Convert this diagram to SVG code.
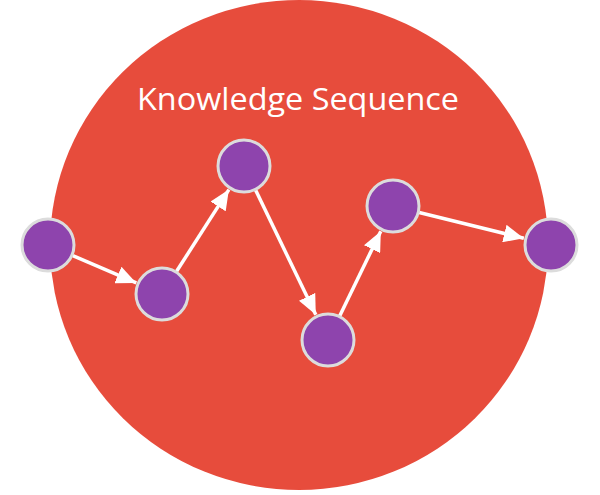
<svg xmlns="http://www.w3.org/2000/svg" width="600" height="495" viewBox="0 0 600 495">
<style>
.node{fill:#8e44ad;stroke:#dcdcdc;stroke-width:3}
.edge{stroke:#ffffff;stroke-width:3.5;fill:none}
.title{font-family:"Open Sans","Liberation Sans",sans-serif;font-size:31px;fill:#ffffff}
</style>
<defs>
<marker id="ah" markerUnits="userSpaceOnUse" markerWidth="21" markerHeight="18" refX="20" refY="9" orient="auto">
<path d="M0,0 L20,9 L0,18 z" fill="#ffffff"/>
</marker>
</defs>
<g id="background">
<ellipse cx="299" cy="245" rx="249" ry="245" fill="#e74c3c"/>
<text class="title" x="298" y="110" text-anchor="middle" textLength="322" lengthAdjust="spacingAndGlyphs">Knowledge Sequence</text>
</g>
<g id="connectors">
<line class="edge" x1="72.8" y1="255.7" x2="136.3" y2="282.9" marker-end="url(#ah)"/>
<line class="edge" x1="176.6" y1="271.3" x2="228.9" y2="189.6" marker-end="url(#ah)"/>
<line class="edge" x1="255.7" y1="190.3" x2="315.8" y2="314.8" marker-end="url(#ah)"/>
<line class="edge" x1="339.8" y1="315.7" x2="380.8" y2="231.2" marker-end="url(#ah)"/>
<line class="edge" x1="419.2" y1="212.5" x2="523.8" y2="238.3" marker-end="url(#ah)"/>
</g>
<g id="n1"><circle class="node" cx="48" cy="245" r="26"/></g>
<g id="n2"><circle class="node" cx="162" cy="294" r="26"/></g>
<g id="n3"><circle class="node" cx="244" cy="166" r="26"/></g>
<g id="n4"><circle class="node" cx="328" cy="340" r="26"/></g>
<g id="n5"><circle class="node" cx="393" cy="206" r="26"/></g>
<g id="n6"><circle class="node" cx="551" cy="245" r="26"/></g>
</svg>
